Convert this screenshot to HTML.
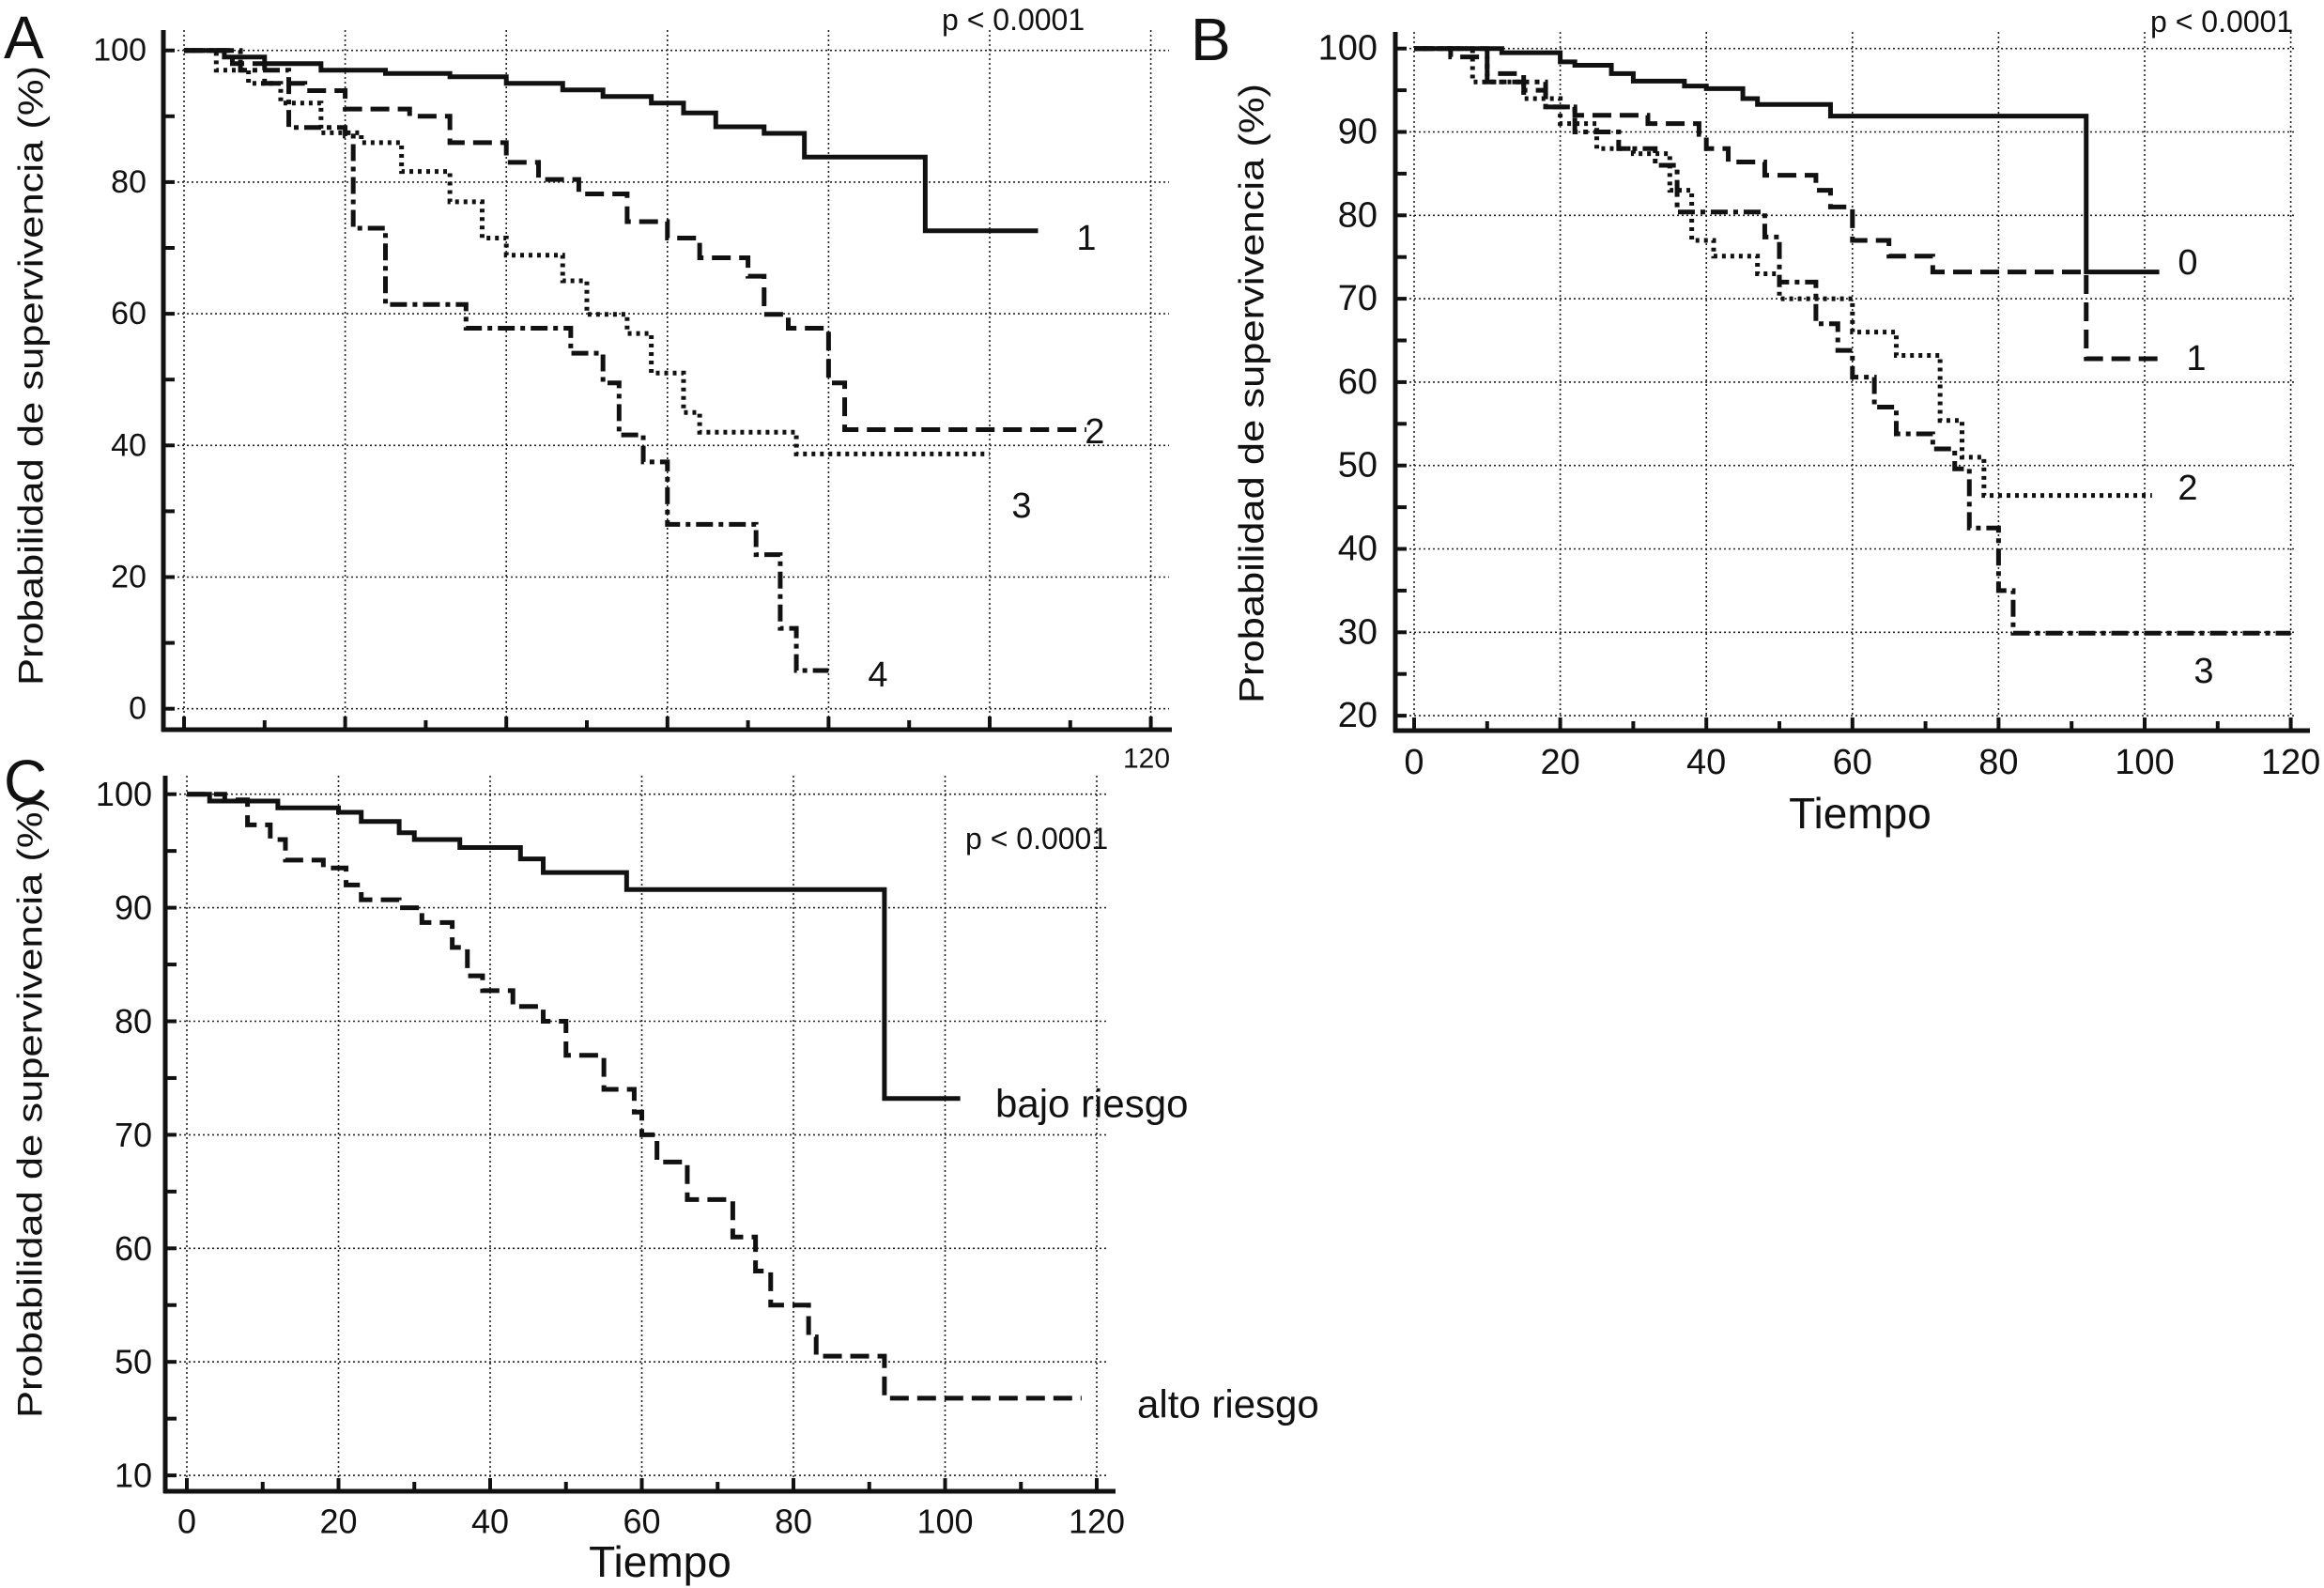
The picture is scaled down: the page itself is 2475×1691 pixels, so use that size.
<!DOCTYPE html>
<html><head><meta charset="utf-8"><style>
html,body{margin:0;padding:0;background:#fff}
svg{display:block}
text{font-family:"Liberation Sans",Arial,sans-serif;fill:#111}
</style></head><body>
<svg id="fig" width="2475" height="1691" viewBox="0 0 2475 1691" xmlns="http://www.w3.org/2000/svg">
<g id="gA"></g>
<g id="gB"></g>
<g id="gC"></g>
</svg>
<script>
// Panel A data
const aTimes1=[5,10,17,25,33,40,47,52,58,62,66,72,77,92,106];
const aSurv1=[99,98,97,96.5,96,95,94,93,92,90.5,88.4,87.4,83.8,72.6,72.6];
const aTimes2=[6,10,15,20,28,33,40,44,49,55,60,64,70,72,75,80,82,112];
const aSurv2=[98,95,93.9,91.1,90,86,83,80.4,78.2,74,71.5,68.5,65.7,59.9,57.8,49.5,42.4,42.4];
const aTimes3=[4,8,12,17,22,27,33,37,40,47,50,55,58,62,64,76,100];
const aSurv3=[97,95,92,87.5,86,81.6,77,71.5,68.9,65,59.9,57,51,45,42,38.7,38.7];
const aTimes4=[7,13,20,21,25,35,48,52,54,57,60,71,74,76,80];
const aSurv4=[97,88.3,87,73,61.4,57.8,54,49.5,41.6,37.5,28,23.4,12.2,5.8,5.8];
const aYTicks=[0,20,40,60,80,100];
const aYLabels=["0","20","40","60","80","100"];
// Panel B data
const bTimes0=[12,20,22,27,30,37,40,45,47,57,92,102];
const bSurv0=[99.5,98.4,98,97,96.1,95.5,95.2,94,93.3,91.9,73.2,73.2];
const bTimes1=[5,10,15,18,22,32,39,40,43,48,55,57,60,65,71,92,102];
const bSurv1=[99,97,95,93,92,91,89.7,88,86.4,84.8,83,81,77,75.1,73.2,62.8,62.8];
const bTimes2=[8,15,20,25,30,35,38,41,47,50,60,66,72,75,78,101];
const bSurv2=[96,94,91,88,87.4,83,77,75.1,73,70,66,63.2,55.4,51,46.4,46.4];
const bTimes3=[10,18,22,28,33,36,48,50,55,58,60,63,66,71,74,76,80,82,120];
const bSurv3=[96,93,90,88,86,80.4,77.4,72,67,63.8,60.6,57,53.8,52,49.6,42.5,35,29.9,29.9];
const bYTicks=[20,30,40,50,60,70,80,90,100];
const bYLabels=["20","30","40","50","60","70","80","90","100"];
// Panel C data
const cTimesLow=[3,12,20,23,28,30,36,44,47,58,92,102];
const cSurvLow=[99.4,98.8,98.4,97.6,96.6,96,95.3,94.3,93.1,91.6,73.2,73.2];
const cTimesHigh=[5,8,11,13,18,21,23,28,31,35,37,39,43,47,50,55,59,60,62,66,72,75,77,82,83,92,118];
const cSurvHigh=[99.5,97.3,96,94.2,93.5,92,90.7,90,88.7,86.5,84,82.7,81.3,80,77,74,72,70,67.6,64.3,61,58,55,52.2,50.5,46.8,46.8];
const cYTicks=[40,50,60,70,80,90,100];
const cYLabels=["10","50","60","70","80","90","100"];
const xTicks=[0,20,40,60,80,100,120];
const xLabels=["0","20","40","60","80","100","120"];

const NS="http://www.w3.org/2000/svg";
function mk(parent,tag,attrs){const e=document.createElementNS(NS,tag);for(const k in attrs)e.setAttribute(k,attrs[k]);parent.appendChild(e);return e;}
function txt(parent,s,x,y,size,anchor,name){const t=mk(parent,'text',{x:x,y:y,'font-size':size,'text-anchor':anchor||'start','dominant-baseline':'central'});t.textContent=s;


return t;}
const styles={solid:'',dash:'20,9',dot:'4,5',dashdot:'18,6,5,6'};
function panel(g,cfg){
  const X=v=>cfg.x0+v*cfg.kx, Y=v=>cfg.yRef-(v-cfg.vRef)*cfg.ky;
  cfg.yt.forEach(v=>{const l=mk(g,'line',{x1:cfg.axX,x2:cfg.gridR,y1:Y(v),y2:Y(v),stroke:'#222','stroke-width':1.6,'stroke-dasharray':'2,3'});
    
    });
  xTicks.forEach(v=>{const l=mk(g,'line',{x1:X(v),x2:X(v),y1:cfg.axTop,y2:cfg.axY,stroke:'#222','stroke-width':1.6,'stroke-dasharray':'2,3'});
    
    });
  cfg.series.forEach(s=>{
    let d='M'+X(0)+' '+Y(100);
    for(let i=0;i<s.t.length;i++){d+=' H'+X(s.t[i])+' V'+Y(s.s[i]);}
    const p=mk(g,'path',{d:d,fill:'none',stroke:'#111','stroke-width':5,'stroke-dasharray':styles[s.st]});
    
    
  });
  const ya=mk(g,'line',{x1:cfg.axX,x2:cfg.axX,y1:cfg.axTop,y2:cfg.axY+2,stroke:'#111','stroke-width':5});
  
  
  const xa=mk(g,'line',{x1:cfg.axX-2,x2:cfg.axR,y1:cfg.axY,y2:cfg.axY,stroke:'#111','stroke-width':5});
  
  
  for(let v=0;v<=120;v+=10){const l=mk(g,'line',{x1:X(v),x2:X(v),y1:cfg.axY,y2:cfg.axY-(v%20?10:14),stroke:'#111','stroke-width':4});
    
    }
  const step=(cfg.yt[1]-cfg.yt[0])/2;
  for(let v=cfg.yt[0];v<=100;v+=step){const l=mk(g,'line',{x1:cfg.axX,x2:cfg.axX+12,y1:Y(v),y2:Y(v),stroke:'#111','stroke-width':4});
    
    }
  cfg.yt.forEach((v,i)=>txt(g,cfg.yl[i],cfg.ylabX,Y(v),cfg.fs,'end','y-tick-label'));
  if(cfg.xlabY) xTicks.forEach((v,i)=>txt(g,xLabels[i],X(v),cfg.xlabY,cfg.fs,'middle','x-tick-label'));
}
const gA=document.getElementById('gA'),gB=document.getElementById('gB'),gC=document.getElementById('gC');
panel(gA,{x0:196,kx:8.58,yRef:754.7,vRef:0,ky:7.01,axX:174,axY:777,axTop:32,axR:1248,gridR:1245,ylabX:156,fs:34,yt:aYTicks,yl:aYLabels,
 series:[{t:aTimes1,s:aSurv1,st:'solid',name:'curve-1'},{t:aTimes2,s:aSurv2,st:'dash',name:'curve-2'},{t:aTimes3,s:aSurv3,st:'dot',name:'curve-3'},{t:aTimes4,s:aSurv4,st:'dashdot',name:'curve-4'}]});
panel(gB,{x0:1506,kx:7.78,yRef:51.7,vRef:100,ky:8.88,axX:1486,axY:778,axTop:34,axR:2460,gridR:2445,ylabX:1467,fs:38,yt:bYTicks,yl:bYLabels,xlabY:812,
 series:[{t:bTimes0,s:bSurv0,st:'solid',name:'curve-0'},{t:bTimes1,s:bSurv1,st:'dash',name:'curve-1'},{t:bTimes2,s:bSurv2,st:'dot',name:'curve-2'},{t:bTimes3,s:bSurv3,st:'dashdot',name:'curve-3'}]});
panel(gC,{x0:199,kx:8.075,yRef:845.7,vRef:100,ky:12.09,axX:176,axY:1588,axTop:826,axR:1188,gridR:1179,ylabX:162,fs:36,yt:cYTicks,yl:cYLabels,xlabY:1620,
 series:[{t:cTimesLow,s:cSurvLow,st:'solid',name:'low-risk-curve'},{t:cTimesHigh,s:cSurvHigh,st:'dash',name:'high-risk-curve'}]});
txt(gA,'A',4,40,64,'start','panel-label-a');
txt(gB,'B',1268,42,64,'start','panel-label-b');
txt(gC,'C',4,832,64,'start','panel-label-c');
txt(gA,'p < 0.0001',1003,21,32,'start','p-value-a');
txt(gB,'p < 0.0001',2290,23,32,'start','p-value-b');
txt(gC,'p < 0.0001',1028,893,32,'start','p-value-c');
txt(gA,'120',1221,808,30,'middle','stray-x-label-120');
[['1',1157,254],['2',1166,460],['3',1088,539],['4',935,719]].forEach(a=>txt(gA,a[0],a[1],a[2],38,'middle','curve-label-'+a[0]));
[['0',2330,280],['1',2339,382],['2',2330,520],['3',2347,715]].forEach(a=>txt(gB,a[0],a[1],a[2],38,'middle','curve-label-'+a[0]));
txt(gC,'bajo riesgo',1060,1175,42,'start','low-risk-label');
txt(gC,'alto riesgo',1211,1495,42,'start','high-risk-label');
txt(gB,'Tiempo',1981,866,46,'middle','x-axis-title-b');
txt(gC,'Tiempo',703,1663,46,'middle','x-axis-title-c');
[[gA,33,400],[gB,1333,419],[gC,32,1180]].forEach((a,i)=>{
  const t=txt(a[0],'Probabilidad de supervivencia (%)',0,0,37,'middle','y-axis-title');
  t.setAttribute('transform','translate('+a[1]+','+a[2]+') rotate(-90)');
  t.setAttribute('textLength','660');
  t.setAttribute('lengthAdjust','spacingAndGlyphs');
});
</script>
</body></html>
